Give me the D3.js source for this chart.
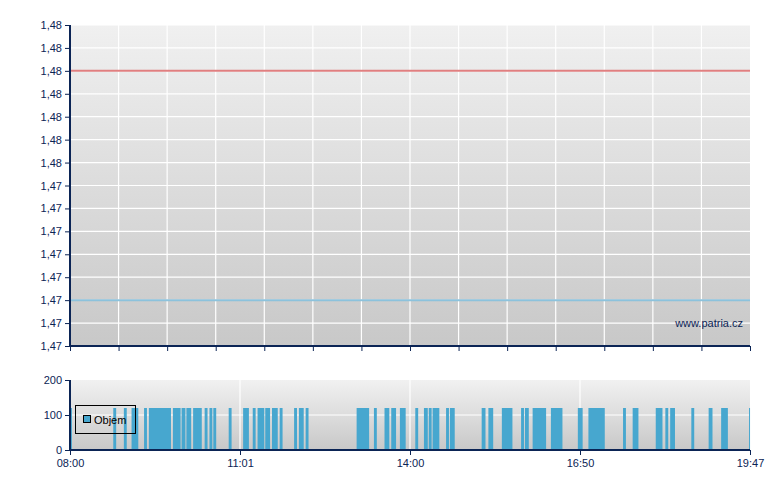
<!DOCTYPE html>
<html><head><meta charset="utf-8">
<script src="https://cdn.jsdelivr.net/npm/d3@7"></script>
<style>
body{margin:0;background:#fff}
text{font-family:"Liberation Sans",Arial,sans-serif}
</style>
</head><body><svg id="c" width="780" height="490"></svg>
<script>
// ---- data ----
const timeLabels = ["08:00","11:01","14:00","16:50","19:47"];
const sessionMinutes = 707; // minutes from 08:00 to 19:47
const priceTicks = [1.4730,1.4735,1.4740,1.4745,1.4750,1.4755,1.4760,1.4765,1.4770,1.4775,1.4780,1.4785,1.4790,1.4795,1.4800];
const priceTickLabels = ["1,47","1,47","1,47","1,47","1,47","1,47","1,47","1,47","1,48","1,48","1,48","1,48","1,48","1,48","1,48"];
const refTimes = [0, 707];
const refValues = [1.4790, 1.4790];
const priceTimes = [0, 707];
const priceValues = [1.4740, 1.4740];
const barStart = [0,45,56,64,77,82,107,116,121,128,140,145,149,165,180,190,195,203,210,218,233,238,245,298,316,327,334,343,359,368,373,377,391,395,428,435,449,469,473,481,500,528,539,575,585,609,619,624,646,664,677,706];
const barEnd   = [2,48,59,71,80,105,115,120,126,137,143,148,152,168,186,193,202,208,216,221,236,243,248,311,319,332,339,349,362,372,376,384,394,400,432,440,460,472,477,495,512,533,556,578,591,616,622,629,649,668,684,707];
const barVolume = barStart.map(() => 120);
const volumeTicks = [0,100,200];
const legendLabel = "Objem";
const watermark = "www.patria.cz";

// ---- layout ----
const svg = d3.select("#c");
const L = 70, R = 750;
const pTop = 25, pBot = 346;
const vTop = 380, vBot = 450;
const navy = "#0b2455";

const defs = svg.append("defs");
function grad(id, c1, c2){
  const g = defs.append("linearGradient").attr("id", id).attr("x1",0).attr("x2",0).attr("y1",0).attr("y2",1);
  g.append("stop").attr("offset","0%").attr("stop-color",c1);
  g.append("stop").attr("offset","100%").attr("stop-color",c2);
}
grad("gTop","#f0f0f0","#c8c8c8");
grad("gVol","#f1f1f1","#c8c8c8");

const x = d3.scaleLinear().domain([0, sessionMinutes]).range([L, R]);
const y = d3.scaleLinear().domain([priceTicks[0], priceTicks[priceTicks.length-1]]).range([pBot, pTop]);
const yv = d3.scaleLinear().domain([0, 200]).range([vBot, vTop]);

const topGridX = d3.range(15).map(i => sessionMinutes * i / 14);
const volTickX = d3.range(5).map(i => sessionMinutes * i / 4);

// ---- price panel ----
svg.append("rect").attr("x",L).attr("y",pTop).attr("width",R-L).attr("height",pBot-pTop).attr("fill","url(#gTop)");
svg.append("g").selectAll("line").data(priceTicks).join("line")
  .attr("x1",L).attr("x2",R).attr("y1",d=>y(d)).attr("y2",d=>y(d))
  .attr("stroke","#fff").attr("stroke-width",1.2);
svg.append("g").selectAll("line").data(topGridX.slice(1,-1)).join("line")
  .attr("x1",d=>x(d)).attr("x2",d=>x(d)).attr("y1",pTop).attr("y2",pBot)
  .attr("stroke","#fff").attr("stroke-width",1.2);

const line = d3.line().x(d=>x(d[0])).y(d=>y(d[1]));
svg.append("path").datum(refTimes.map((t,i)=>[t,refValues[i]])).attr("d",line)
  .attr("fill","none").attr("stroke","#e07f80").attr("stroke-width",2);
svg.append("path").datum(priceTimes.map((t,i)=>[t,priceValues[i]])).attr("d",line)
  .attr("fill","none").attr("stroke","#8cc2dc").attr("stroke-width",2);

svg.append("text").attr("x",743).attr("y",327).attr("text-anchor","end")
  .attr("font-size",11).attr("fill",navy).text(watermark);

const yAxis = d3.axisLeft(y).tickValues(priceTicks).tickSize(5).tickPadding(3)
  .tickFormat((d,i)=>priceTickLabels[i]);
const gy = svg.append("g").attr("transform",`translate(${L},0)`).call(yAxis);
const xAxisTop = d3.axisBottom(x).tickValues(topGridX).tickSize(5).tickFormat("");
const gxt = svg.append("g").attr("transform",`translate(0,${pBot})`).call(xAxisTop);

// ---- volume panel ----
svg.append("rect").attr("x",L).attr("y",vTop).attr("width",R-L).attr("height",vBot-vTop).attr("fill","url(#gVol)");
svg.append("line").attr("x1",L).attr("x2",R).attr("y1",yv(100)).attr("y2",yv(100)).attr("stroke","#fff").attr("stroke-width",1.2);
svg.append("g").selectAll("line").data(volTickX.slice(1,-1)).join("line")
  .attr("x1",d=>x(d)).attr("x2",d=>x(d)).attr("y1",vTop).attr("y2",vBot)
  .attr("stroke","#fff").attr("stroke-width",1.2);

svg.append("g").selectAll("rect").data(barStart.map((s,i)=>({s, e:barEnd[i], v:barVolume[i]}))).join("rect")
  .attr("x",d=>x(d.s)).attr("width",d=>Math.max(1, x(d.e)-x(d.s)))
  .attr("y",d=>yv(d.v)).attr("height",d=>yv(0)-yv(d.v))
  .attr("fill","#47a7cf");

const yvAxis = d3.axisLeft(yv).tickValues(volumeTicks).tickSize(5).tickPadding(3);
const gyv = svg.append("g").attr("transform",`translate(${L},0)`).call(yvAxis);
const xAxis = d3.axisBottom(x).tickValues(volTickX).tickSize(5).tickPadding(4)
  .tickFormat((d,i)=>timeLabels[i]);
const gx = svg.append("g").attr("transform",`translate(0,${vBot})`).call(xAxis);

// legend
const lg = svg.append("g");
lg.append("rect").attr("x",75.5).attr("y",405.5).attr("width",60).attr("height",28)
  .attr("fill","none").attr("stroke","#000").attr("stroke-width",1);
lg.append("rect").attr("x",83.5).attr("y",415.5).attr("width",7).attr("height",7)
  .attr("fill","#47a7cf").attr("stroke","#000").attr("stroke-width",1);
lg.append("text").attr("x",94).attr("y",424).attr("font-size",11).attr("fill","#000").text(legendLabel);

// axis styling
[gy,gxt,gyv,gx].forEach(g=>{
  g.select(".domain").attr("stroke",navy).attr("stroke-width",2);
  g.selectAll(".tick line").attr("stroke",navy);
  g.selectAll(".tick text").attr("fill",navy).attr("font-size",11)
    .attr("font-family","'Liberation Sans',Arial,sans-serif");
});
gy.select(".domain").attr("d",`M0,${pTop}V${pBot}`);
gyv.select(".domain").attr("d",`M0,${vTop}V${vBot}`);
gxt.select(".domain").attr("d",`M${L},0H${R}`);
gx.select(".domain").attr("d",`M${L},0H${R}`);
</script>
</body></html>
